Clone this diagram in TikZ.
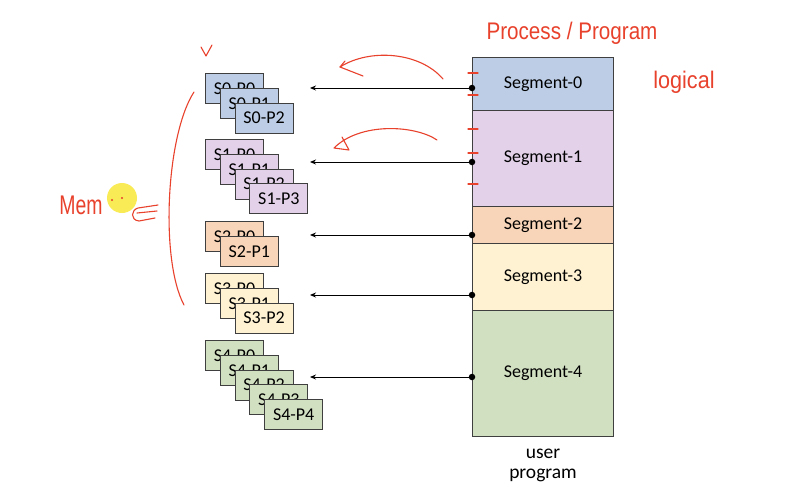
\documentclass[tikz,border=0pt]{standalone}
\usepackage{fontspec}
\setmainfont{Carlito}
\newfontfamily\handfont{Liberation Sans}
\usetikzlibrary{arrows.meta}
\definecolor{edge}{HTML}{3F3F3F}
\definecolor{segblue}{HTML}{BCCDE5}
\definecolor{segpurple}{HTML}{E2D1E9}
\definecolor{segpeach}{HTML}{F8D5B8}
\definecolor{segyellow}{HTML}{FEF2D2}
\definecolor{seggreen}{HTML}{D2E0C2}
\definecolor{inkred}{HTML}{E8412C}
\definecolor{marker}{HTML}{F9EB55}
\begin{document}
\begin{tikzpicture}[x=1pt,y=-1pt,
  box/.style={draw=edge, line width=1pt, inner sep=0pt, anchor=north west,
              font=\fontsize{18}{20}\selectfont},
  page/.style={box, minimum width=58pt, minimum height=30pt},
  seg/.style={box, minimum width=141pt},
  link/.style={draw=black, line width=0.9pt, -{Stealth[length=6pt,width=5pt]}},
  pin/.style={circle, fill=black, inner sep=0pt, minimum size=6.5pt},
  ink/.style={draw=inkred, line width=1.1pt, line cap=round, line join=round},
  inktext/.style={text=inkred, inner sep=0pt, font=\handfont\fontsize{24}{26}\selectfont}]

\useasboundingbox[fill=white] (0,0) rectangle (798,499);

% user program split into segments
\node[seg, fill=segblue,   minimum height=53pt]  (seg0) at (472,57)  {Segment-0};
\node[seg, fill=segpurple, minimum height=96pt]  (seg1) at (472,110) {Segment-1};
\node[seg, fill=segpeach,  minimum height=37pt]  (seg2) at (472,206) {Segment-2};
\node[seg, fill=segyellow, minimum height=67pt]  (seg3) at (472,243) {Segment-3};
\node[seg, fill=seggreen,  minimum height=126pt] (seg4) at (472,310) {Segment-4};
\node[font=\fontsize{19.5}{20}\selectfont, align=center] (caption) at (543,465) {user\\program};

% stacked pages of each segment
\foreach \g/\top/\n/\col in {0/73/2/segblue, 1/139/3/segpurple, 2/221/1/segpeach,
                             3/273/2/segyellow, 4/340/4/seggreen} {
  \foreach \p in {0,...,\n} {
    \node[page, fill=\col] (s\g p\p) at ({205+14.8*\p},{\top+14.8*\p}) {S\g-P\p};
  }
}

% segment to pages links
\foreach \i/\y in {0/88, 1/162, 2/235, 3/295, 4/377} {
  \node[pin] (pin\i) at (472,\y) {};
  \coordinate (tip\i) at (310,\y);
  \draw[link] (pin\i) -- (tip\i);
}

% handwritten notes
\node[inktext] (title) at (572,33) {\scalebox{0.86}[1]{Process / Program}};
\node[inktext] (logical) at (684,82) {\scalebox{0.9}[1]{logical}};
\node[inktext, font=\handfont\fontsize{27}{28}\selectfont] (mem) at (81,205) {\scalebox{0.72}[1]{Mem}};
\node[circle, fill=marker, inner sep=0pt, minimum size=30pt] (cursor) at (122,198) {};
\fill[inkred] (112,200) circle (1.1pt) (122,198) circle (1.1pt);
\draw[ink] (158,205) -- (138,208) .. controls (131,210) and (130,220) .. (139,221) -- (155,218);
\draw[ink] (137,213) -- (157,211);
\draw[ink] (194,92) .. controls (166,135) and (160,260) .. (184,305);
\draw[ink] (201,47) -- (206,56) -- (212,45);
\draw[ink] (443,79) .. controls (420,52) and (370,48) .. (340,67) -- (363,76);
\draw[ink] (340,67) -- (345,61);
\draw[ink] (437,140) .. controls (415,125) and (360,122) .. (334,148) -- (349,150) -- (342,137);
\foreach \y in {73,95,129,153,184} {
  \draw[ink, line width=1.3pt] (468,\y) -- (478,\y);
}
\end{tikzpicture}
\end{document}
